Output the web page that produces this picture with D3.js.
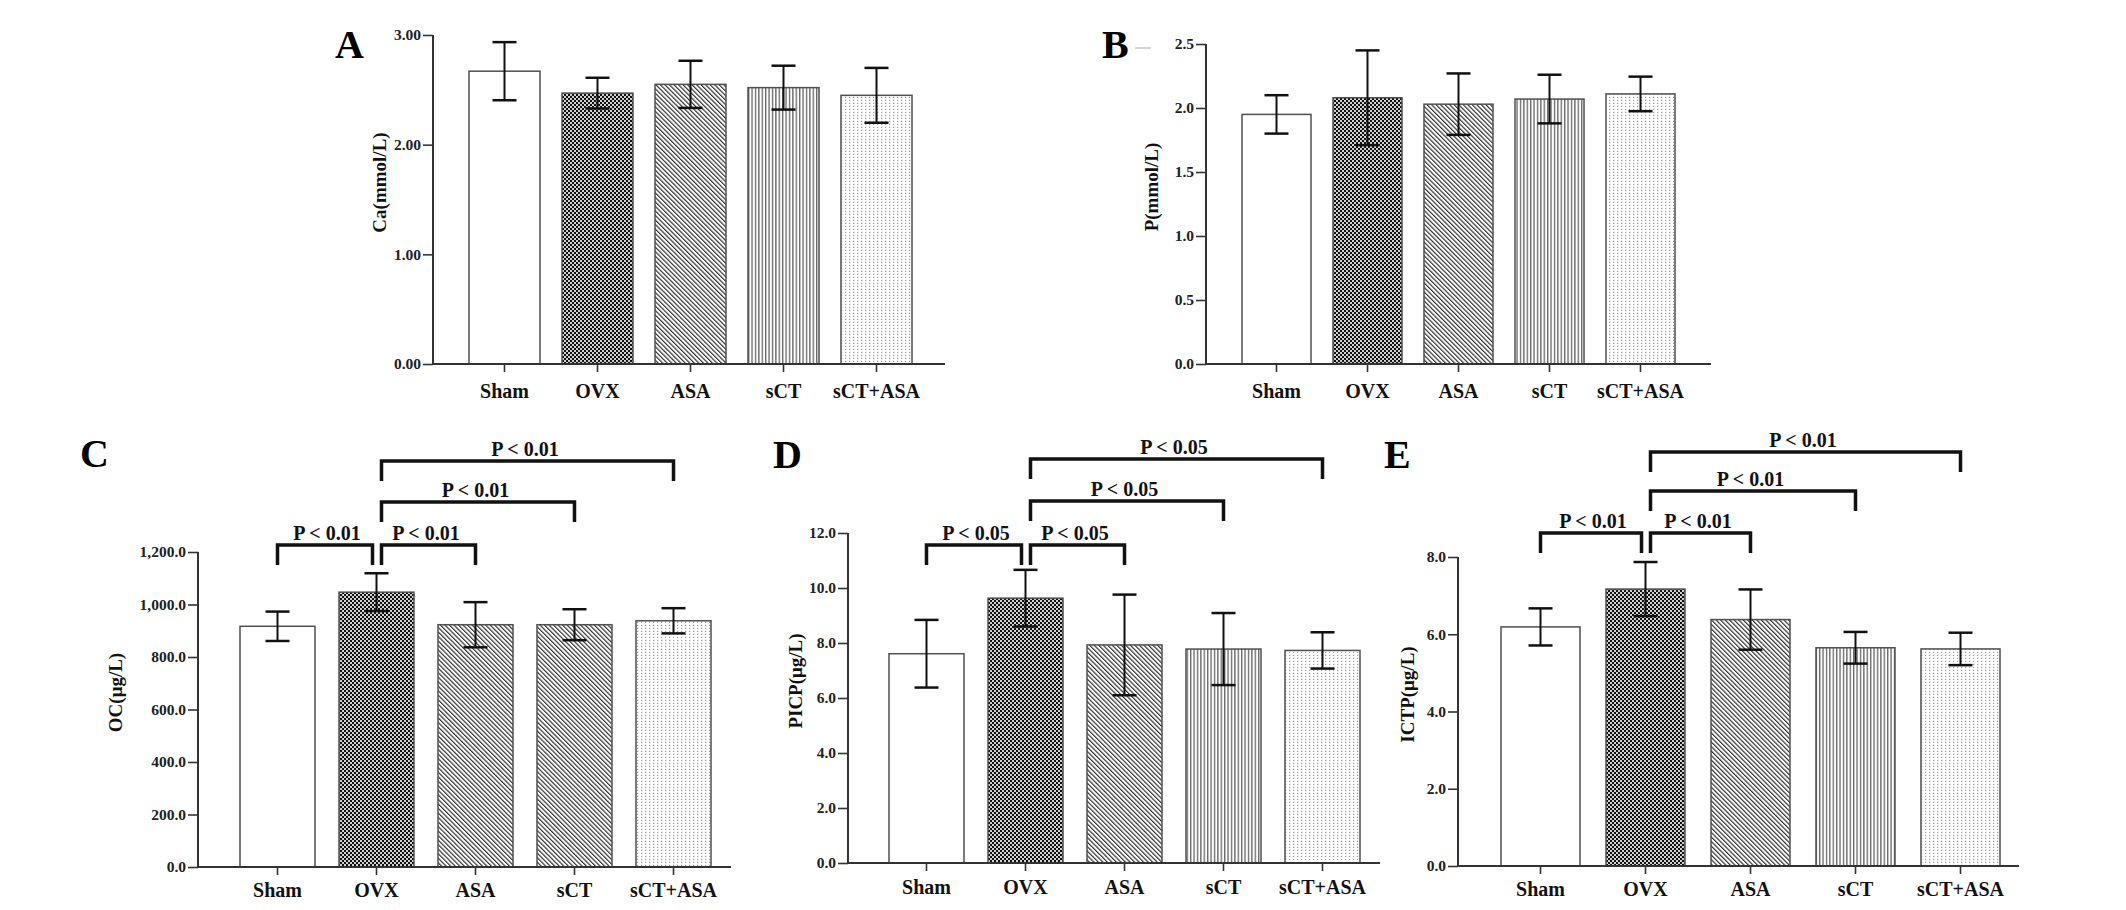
<!DOCTYPE html>
<meta charset="utf-8">
<style>
  body { margin: 0; background: #fff; }
  text { font-family: "Liberation Serif", "Times New Roman", serif; font-weight: bold; }
</style>
<body>
<script src="https://cdn.jsdelivr.net/npm/d3@7"></script>
<script>
// groups and values (mean, error bar half-length)
var groups = ["Sham", "OVX", "ASA", "sCT", "sCT+ASA"];

var caMean = [2.67, 2.47, 2.55, 2.52, 2.45];
var caErr  = [0.265, 0.14, 0.215, 0.20, 0.25];
var caTicks = [0, 1, 2, 3];

var pMean = [1.95, 2.08, 2.03, 2.07, 2.11];
var pErr  = [0.15, 0.37, 0.24, 0.19, 0.135];
var pTicks = [0, 0.5, 1.0, 1.5, 2.0, 2.5];

var ocMean = [917, 1047, 923, 923, 938];
var ocErr  = [56, 72, 86, 59, 48];
var ocTicks = [0, 200, 400, 600, 800, 1000, 1200];

var picpMean = [7.61, 9.63, 7.93, 7.78, 7.73];
var picpErr  = [1.23, 1.03, 1.83, 1.31, 0.66];
var picpTicks = [0, 2, 4, 6, 8, 10, 12];

var ictpMean = [6.19, 7.17, 6.38, 5.65, 5.62];
var ictpErr  = [0.48, 0.70, 0.78, 0.41, 0.42];
var ictpTicks = [0, 2, 4, 6, 8];

// significance brackets: [from, to, row]
var compare = [["Sham", "OVX", 0], ["OVX", "ASA", 0], ["OVX", "sCT", 1], ["OVX", "sCT+ASA", 2]];
var ocSig = "P < 0.01", picpSig = "P < 0.05", ictpSig = "P < 0.01";

var width = 2126, height = 910;

var svg = d3.select("body").append("svg")
  .attr("width", width)
  .attr("height", height);

// fill patterns
var defs = svg.append("defs");

var chk = defs.append("pattern").attr("id", "checker")
  .attr("patternUnits", "userSpaceOnUse").attr("width", 4).attr("height", 4);
chk.append("rect").attr("width", 4).attr("height", 4).attr("fill", "#111");
chk.append("rect").attr("x", 0.1).attr("y", 0.1).attr("width", 1.8).attr("height", 1.8).attr("fill", "#fff");
chk.append("rect").attr("x", 2.1).attr("y", 2.1).attr("width", 1.8).attr("height", 1.8).attr("fill", "#fff");

var dg = defs.append("pattern").attr("id", "diag")
  .attr("patternUnits", "userSpaceOnUse").attr("width", 3.2).attr("height", 3.2)
  .attr("patternTransform", "rotate(-45)");
dg.append("rect").attr("width", 3.2).attr("height", 3.2).attr("fill", "#fff");
dg.append("line").attr("x1", 0.6).attr("y1", 0).attr("x2", 0.6).attr("y2", 3.2)
  .attr("stroke", "#333").attr("stroke-width", 1.2);

var vt = defs.append("pattern").attr("id", "vert")
  .attr("patternUnits", "userSpaceOnUse").attr("width", 3.4).attr("height", 4);
vt.append("rect").attr("width", 3.4).attr("height", 4).attr("fill", "#fff");
vt.append("line").attr("x1", 0.7).attr("y1", 0).attr("x2", 0.7).attr("y2", 4)
  .attr("stroke", "#555").attr("stroke-width", 1.2);

var dt = defs.append("pattern").attr("id", "dots")
  .attr("patternUnits", "userSpaceOnUse").attr("width", 4).attr("height", 3);
dt.append("rect").attr("width", 4).attr("height", 3).attr("fill", "#fff");
dt.append("rect").attr("x", 1).attr("y", 0.8).attr("width", 1.2).attr("height", 1.2).attr("fill", "#9a9a9a");

var panels = [
  { letter: "A", mean: caMean, err: caErr, ticks: caTicks, fmt: ".2f", ylab: "Ca(mmol/L)",
    x0: 433, barStart: 469, step: 93, bw: 71, tail: 33, yTop: 35, yBot: 364, yMax: 3,
    letterX: 335, letterY: 58, ylabX: 386, labDy: 34,
    fills: ["#fff", "url(#checker)", "url(#diag)", "url(#vert)", "url(#dots)"] },
  { letter: "B", mean: pMean, err: pErr, ticks: pTicks, fmt: ".1f", ylab: "P(mmol/L)",
    x0: 1206, barStart: 1242, step: 91, bw: 69, tail: 36, yTop: 44, yBot: 364, yMax: 2.5,
    letterX: 1102, letterY: 58, ylabX: 1158, labDy: 34,
    fills: ["#fff", "url(#checker)", "url(#diag)", "url(#vert)", "url(#dots)"] },
  { letter: "C", mean: ocMean, err: ocErr, ticks: ocTicks, fmt: ",.1f", ylab: "OC(\u03bcg/L)",
    x0: 198, barStart: 240, step: 99, bw: 75, tail: 20, yTop: 552, yBot: 867, yMax: 1200,
    letterX: 80, letterY: 467, ylabX: 122, labDy: 30, sig: ocSig, rows: [545, 502, 461],
    fills: ["#fff", "url(#checker)", "url(#diag)", "url(#diag)", "url(#dots)"] },
  { letter: "D", mean: picpMean, err: picpErr, ticks: picpTicks, fmt: ".1f", ylab: "PICP(\u03bcg/L)",
    x0: 848, barStart: 889, step: 99, bw: 75, tail: 20, yTop: 533, yBot: 863, yMax: 12,
    letterX: 773, letterY: 468, ylabX: 802, labDy: 31, sig: picpSig, rows: [545, 501, 459],
    fills: ["#fff", "url(#checker)", "url(#diag)", "url(#vert)", "url(#dots)"] },
  { letter: "E", mean: ictpMean, err: ictpErr, ticks: ictpTicks, fmt: ".1f", ylab: "ICTP(\u03bcg/L)",
    x0: 1458, barStart: 1501, step: 105, bw: 79, tail: 19, yTop: 557, yBot: 866, yMax: 8,
    letterX: 1384, letterY: 468, ylabX: 1414, labDy: 30, sig: ictpSig, rows: [533, 491, 452],
    fills: ["#fff", "url(#checker)", "url(#diag)", "url(#vert)", "url(#dots)"] }
];

panels.forEach(drawPanel);

// small stray dash next to the B letter in the original
svg.append("line").attr("x1", 1135).attr("x2", 1151).attr("y1", 48).attr("y2", 48)
  .attr("stroke", "#aaa").attr("stroke-width", 1);

function drawPanel(p) {
  var g = svg.append("g");
  var rows = groups.map(function(k, i) { return { key: k, mean: p.mean[i], err: p.err[i], fill: p.fills[i] }; });

  var x = d3.scaleBand()
    .domain(groups)
    .range([p.barStart, p.barStart + 4 * p.step + p.bw])
    .paddingInner(1 - p.bw / p.step)
    .paddingOuter(0);

  var y = d3.scaleLinear()
    .domain([0, p.yMax])
    .range([p.yBot, p.yTop]);

  var xEnd = p.barStart + 4 * p.step + p.bw + p.tail;

  // bars
  g.selectAll("rect.bar").data(rows).join("rect")
    .attr("class", "bar")
    .attr("x", function(d) { return x(d.key); })
    .attr("y", function(d) { return y(d.mean); })
    .attr("width", x.bandwidth())
    .attr("height", function(d) { return y(0) - y(d.mean); })
    .attr("fill", function(d) { return d.fill; })
    .attr("stroke", "#505050")
    .attr("stroke-width", 1.5);

  // error bars
  var cap = 12;
  var eb = g.selectAll("g.err").data(rows).join("g").attr("class", "err")
    .attr("transform", function(d) { return "translate(" + (x(d.key) + x.bandwidth() / 2) + ",0)"; });
  eb.append("line")
    .attr("y1", function(d) { return y(d.mean + d.err); })
    .attr("y2", function(d) { return y(d.mean - d.err); })
    .attr("stroke", "#111").attr("stroke-width", 2);
  eb.append("line")
    .attr("x1", -cap).attr("x2", cap)
    .attr("y1", function(d) { return y(d.mean + d.err); })
    .attr("y2", function(d) { return y(d.mean + d.err); })
    .attr("stroke", "#111").attr("stroke-width", 2.5);
  eb.append("line")
    .attr("x1", -cap).attr("x2", cap)
    .attr("y1", function(d) { return y(d.mean - d.err); })
    .attr("y2", function(d) { return y(d.mean - d.err); })
    .attr("stroke", "#111").attr("stroke-width", 2.5);

  // y axis
  var yAxis = g.append("g")
    .attr("transform", "translate(" + p.x0 + ",0)")
    .call(d3.axisLeft(y).tickValues(p.ticks).tickFormat(d3.format(p.fmt)).tickSize(10).tickPadding(2));
  yAxis.select(".domain").remove();
  yAxis.selectAll(".tick line").attr("stroke", "#333").attr("stroke-width", 1.6);
  yAxis.selectAll(".tick text")
    .attr("font-family", "Liberation Serif, Times New Roman, serif")
    .attr("font-weight", "bold")
    .attr("font-size", 15.5)
    .attr("fill", "#222");
  g.append("line")
    .attr("x1", p.x0).attr("x2", p.x0)
    .attr("y1", y(p.yMax)).attr("y2", y(0))
    .attr("stroke", "#333").attr("stroke-width", 2);

  // x axis
  var xAxis = g.append("g")
    .attr("transform", "translate(0," + y(0) + ")")
    .call(d3.axisBottom(x).tickSize(8).tickFormat(""));
  xAxis.select(".domain").remove();
  xAxis.selectAll(".tick line").attr("stroke", "#333").attr("stroke-width", 1.6);
  g.append("line")
    .attr("x1", p.x0).attr("x2", xEnd)
    .attr("y1", y(0)).attr("y2", y(0))
    .attr("stroke", "#333").attr("stroke-width", 2);

  g.selectAll("text.xl").data(groups).join("text")
    .attr("class", "xl")
    .attr("x", function(d) { return x(d) + x.bandwidth() / 2; })
    .attr("y", y(0) + p.labDy)
    .attr("text-anchor", "middle")
    .attr("font-size", 20)
    .attr("fill", "#111")
    .text(function(d) { return d; });

  // y label
  var cy = (y(0) + y(p.yMax)) / 2 - 17;
  g.append("text")
    .attr("transform", "translate(" + p.ylabX + "," + cy + ") rotate(-90)")
    .attr("text-anchor", "middle")
    .attr("font-size", 19)
    .attr("fill", "#111")
    .text(p.ylab);

  // panel letter
  g.append("text")
    .attr("x", p.letterX).attr("y", p.letterY)
    .attr("font-size", 40)
    .attr("fill", "#000")
    .text(p.letter);

  // significance brackets
  if (p.sig) {
    var cx = function(k) { return x(k) + x.bandwidth() / 2; };
    var br = g.selectAll("g.br").data(compare).join("g").attr("class", "br");
    br.append("path")
      .attr("d", function(d) {
        var a = cx(d[0]) + (d[0] === "OVX" ? 5 : 0);
        var b = cx(d[1]) - (d[1] === "OVX" ? 4 : 0);
        var ly = p.rows[d[2]];
        return "M" + a + "," + (ly + 20) + "V" + ly + "H" + b + "V" + (ly + 20);
      })
      .attr("fill", "none")
      .attr("stroke", "#111")
      .attr("stroke-width", 3.5);
    br.append("text")
      .attr("x", function(d) { return (cx(d[0]) + cx(d[1])) / 2; })
      .attr("y", function(d) { return p.rows[d[2]] - 5; })
      .attr("text-anchor", "middle")
      .attr("font-size", 20)
      .attr("fill", "#111")
      .text(p.sig);
  }
}
</script>
</body>
